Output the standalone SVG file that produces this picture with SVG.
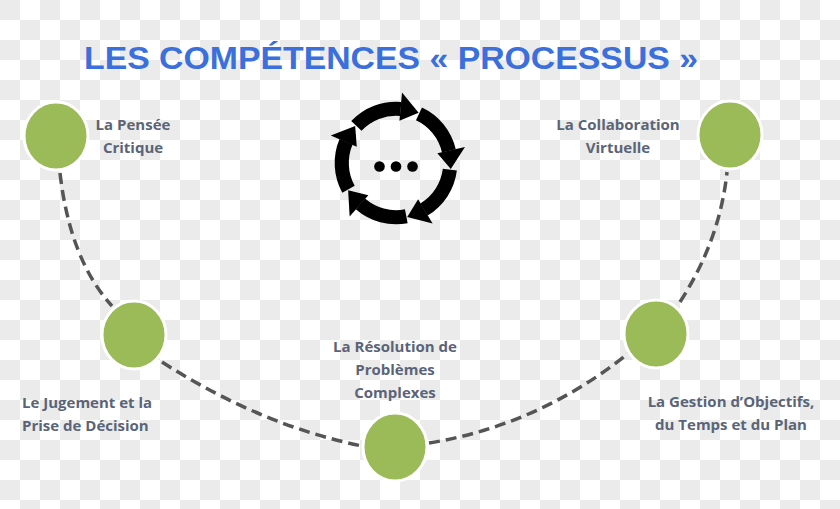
<svg xmlns="http://www.w3.org/2000/svg" width="840" height="509" viewBox="0 0 840 509">
<style>
.n{fill:#9bbb59;stroke:#fff;stroke-width:3}
.t{font-family:"Open Sans","Liberation Sans",sans-serif;font-weight:bold;font-size:15px;fill:#5b6477}
.c{fill:none;stroke:#555;stroke-width:3.5;stroke-dasharray:11 6}
.ar{fill:none;stroke:#000;stroke-width:12}
</style>
<defs><pattern id="ck" width="40" height="40" patternUnits="userSpaceOnUse"><rect width="40" height="40" fill="#fff"/><rect width="20" height="20" fill="#ebebeb"/><rect x="20" y="20" width="20" height="20" fill="#ebebeb"/></pattern>
<g id="arr"><path class="ar" d="M362.4,131.6 A46,46 0 0 1 400,117.2"/><polygon points="398.9,127.1 401.1,103.2 415.2,120.4"/></g></defs>
<rect width="840" height="509" fill="url(#ck)"/>
<text x="84" y="69" font-family="Liberation Sans,Arial,sans-serif" font-weight="bold" font-size="32" fill="#3a6fdc" textLength="614" lengthAdjust="spacingAndGlyphs">LES COMPÉTENCES « PROCESSUS »</text>
<g id="connectors">
<path class="c" d="M60,173 Q70,260 112,306"/>
<path class="c" d="M162,362 Q260,425 362,446"/>
<path class="c" d="M429,443 Q540,425 630,352"/>
<path class="c" d="M680,302 Q720,240 727,172"/>
</g>
<g id="icon" transform="translate(396 163) scale(1.18) translate(-396 -163)">
<use href="#arr"/><use href="#arr" transform="rotate(72 396 163)"/><use href="#arr" transform="rotate(144 396 163)"/><use href="#arr" transform="rotate(216 396 163)"/><use href="#arr" transform="rotate(288 396 163)"/>
<circle cx="382" cy="166" r="4.5"/><circle cx="396" cy="166" r="4.5"/><circle cx="410" cy="166" r="4.5"/>
</g>
<g id="n1"><ellipse class="n" cx="56" cy="136" rx="32" ry="34"/><text class="t" text-anchor="middle" x="133" y="130">La Pensée</text><text class="t" text-anchor="middle" x="133" y="153">Critique</text></g>
<g id="n2"><ellipse class="n" cx="134" cy="335" rx="32" ry="34"/><text class="t" x="22" y="408">Le Jugement et la</text><text class="t" x="22" y="431">Prise de Décision</text></g>
<g id="n3"><ellipse class="n" cx="395" cy="447" rx="32" ry="34"/><text class="t" text-anchor="middle" x="395" y="352">La Résolution de</text><text class="t" text-anchor="middle" x="395" y="375">Problèmes</text><text class="t" text-anchor="middle" x="395" y="398">Complexes</text></g>
<g id="n4"><ellipse class="n" cx="656" cy="334" rx="32" ry="34"/><text class="t" text-anchor="middle" x="731" y="407">La Gestion d’Objectifs,</text><text class="t" text-anchor="middle" x="731" y="430">du Temps et du Plan</text></g>
<g id="n5"><ellipse class="n" cx="730" cy="135" rx="32" ry="34"/><text class="t" text-anchor="middle" x="618" y="130">La Collaboration</text><text class="t" text-anchor="middle" x="618" y="153">Virtuelle</text></g>
</svg>
